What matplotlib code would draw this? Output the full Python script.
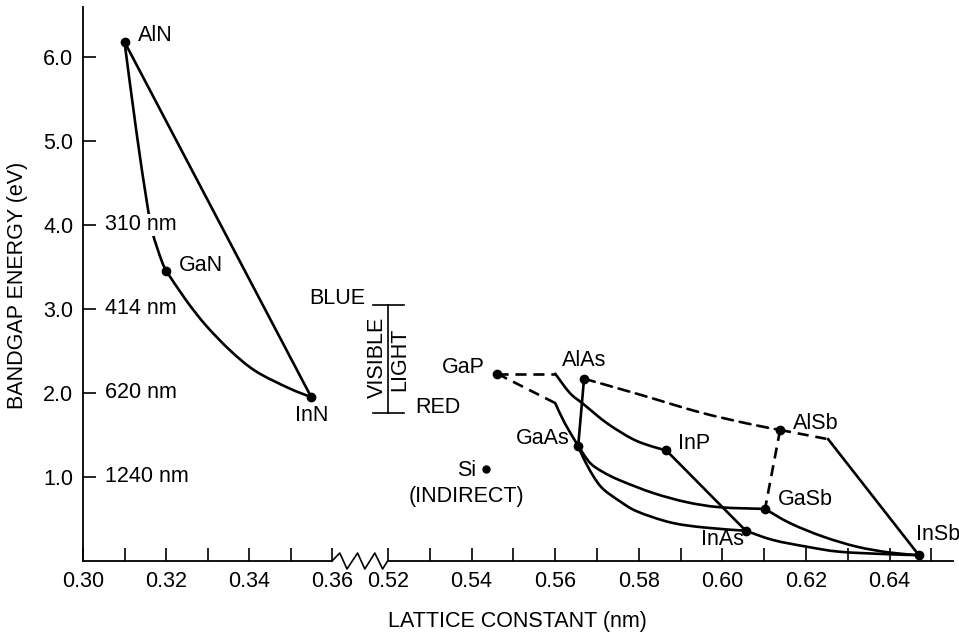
import matplotlib.pyplot as plt
from matplotlib.path import Path
from matplotlib.patches import PathPatch
from matplotlib.transforms import blended_transform_factory

plt.rcParams['font.family'] = ['Liberation Sans', 'DejaVu Sans']

# compounds: lattice constant (nm), bandgap (eV)
nitrides = {'AlN': (0.3100, 6.18), 'GaN': (0.3201, 3.45), 'InN': (0.3550, 1.95)}
others = {'GaP': (0.5461, 2.23), 'AlAs': (0.5669, 2.17), 'GaAs': (0.5655, 1.37),
          'InP': (0.5865, 1.32), 'AlSb': (0.6138, 1.56), 'GaSb': (0.6102, 0.62),
          'InAs': (0.6056, 0.36), 'InSb': (0.6470, 0.07)}
si = (0.5434, 1.10)

# ternary curves
alngan_x = [0.3100, 0.3129, 0.3153, 0.3167, 0.3189, 0.3201]
alngan_y = [6.18, 5.10, 4.30, 3.92, 3.58, 3.45]
ganinn_x = [0.3201, 0.3249, 0.3297, 0.3356, 0.3416, 0.3495, 0.3550]
ganinn_y = [3.45, 3.10, 2.80, 2.50, 2.26, 2.06, 1.95]
alninn_x = [0.3100, 0.3550]
alninn_y = [6.18, 1.95]

gapinp_dash_x = [0.5461, 0.5600]
gapinp_dash_y = [2.23, 2.23]
gapinp_x = [0.5600, 0.5635, 0.5667, 0.5724, 0.5786, 0.5834, 0.5865]
gapinp_y = [2.23, 2.00, 1.87, 1.64, 1.45, 1.36, 1.32]
gapgaas_dash_x = [0.5461, 0.5600]
gapgaas_dash_y = [2.23, 1.88]
gapgaas_x = [0.5600, 0.5623, 0.5655]
gapgaas_y = [1.88, 1.64, 1.37]
alasgaas_x = [0.5669, 0.5655]
alasgaas_y = [2.17, 1.37]
alasalsb_x = [0.5669, 0.5803, 0.5946, 0.6066, 0.6138]
alasalsb_y = [2.17, 1.98, 1.77, 1.63, 1.56]
alsbinsb_dash_x = [0.6138, 0.6253]
alsbinsb_dash_y = [1.56, 1.45]
alsbinsb_x = [0.6253, 0.6470]
alsbinsb_y = [1.45, 0.07]
alsbgasb_x = [0.6138, 0.6102]
alsbgasb_y = [1.56, 0.62]
gaasgasb_x = [0.5655, 0.5683, 0.5714, 0.5755, 0.5834, 0.5915, 0.5994, 0.6102]
gaasgasb_y = [1.37, 1.17, 1.06, 0.96, 0.81, 0.70, 0.64, 0.62]
gaasinas_x = [0.5655, 0.5667, 0.5690, 0.5714, 0.5755, 0.5796, 0.5875, 0.5954, 0.6056]
gaasinas_y = [1.37, 1.23, 1.02, 0.86, 0.71, 0.59, 0.46, 0.40, 0.36]
inpinas_x = [0.5865, 0.6056]
inpinas_y = [1.32, 0.36]
gasbinsb_x = [0.6102, 0.6162, 0.6241, 0.6322, 0.6401, 0.6470]
gasbinsb_y = [0.62, 0.45, 0.29, 0.17, 0.10, 0.07]
inasinsb_x = [0.6056, 0.6121, 0.6202, 0.6281, 0.6401, 0.6470]
inasinsb_y = [0.36, 0.25, 0.17, 0.11, 0.08, 0.07]

visible = (1.76, 3.05)
wavelengths = {4.0: '310 nm', 3.0: '414 nm', 2.0: '620 nm', 1.0: '1240 nm'}

lw = 1.9
dash = (0, (4.2, 2.6))
k = 'black'
fs = 15.5


def curve(ax, xs, ys, ls='-'):
    # smooth bezier through the read points (catmull-rom style handles)
    pts = list(zip(xs, ys))
    if len(pts) < 3:
        ax.plot(xs, ys, color=k, lw=lw, linestyle=ls, clip_on=False)
        return
    verts = [pts[0]]
    codes = [Path.MOVETO]
    n = len(pts)
    for i in range(n - 1):
        p0 = pts[max(i - 1, 0)]
        p1 = pts[i]
        p2 = pts[i + 1]
        p3 = pts[min(i + 2, n - 1)]
        c1 = (p1[0] + (p2[0] - p0[0]) / 6, p1[1] + (p2[1] - p0[1]) / 6)
        c2 = (p2[0] - (p3[0] - p1[0]) / 6, p2[1] - (p3[1] - p1[1]) / 6)
        verts += [c1, c2, p2]
        codes += [Path.CURVE4] * 3
    ax.add_patch(PathPatch(Path(verts, codes), fill=False, edgecolor=k, lw=lw,
                           linestyle=ls, clip_on=False, capstyle='round'))


fig = plt.figure(figsize=(9.59, 6.37), dpi=100)
ax1 = fig.add_axes([0.08655, 0.11931, 0.25965, 0.86970])
ax2 = fig.add_axes([0.40459, 0.11931, 0.58916, 0.86970])
ymax = 6.595
ax1.set_xlim(0.30, 0.36)
ax2.set_xlim(0.52, 0.65517)
for ax in (ax1, ax2):
    ax.set_ylim(0, ymax)
    ax.spines['top'].set_visible(False)
    ax.spines['right'].set_visible(False)
    for s in ax.spines.values():
        s.set_linewidth(1.3)
    ax.tick_params(direction='in', length=9.5, width=1.2, labelsize=fs, pad=7)
ax2.spines['left'].set_visible(False)
ax2.set_yticks([])
ax1.set_yticks([1, 2, 3, 4, 5, 6])
ax1.set_yticklabels(['1.0', '2.0', '3.0', '4.0', '5.0', '6.0'])

t1 = [0.30, 0.31, 0.32, 0.33, 0.34, 0.35, 0.36]
ax1.set_xticks(t1)
ax1.set_xticklabels(['%.2f' % t if i % 2 == 0 else '' for i, t in enumerate(t1)])
t2 = [0.52, 0.53, 0.54, 0.55, 0.56, 0.57, 0.58, 0.59, 0.60, 0.61, 0.62, 0.63, 0.64, 0.65]
ax2.set_xticks(t2)
ax2.set_xticklabels(['%.2f' % t if i % 2 == 0 else '' for i, t in enumerate(t2)])
ax1.tick_params(axis='x', pad=7)
ax2.tick_params(axis='x', pad=7)

# left panel: nitrides
curve(ax1, alngan_x, alngan_y)
curve(ax1, ganinn_x, ganinn_y)
ax1.plot(alninn_x, alninn_y, color=k, lw=lw)
nx = [v[0] for v in nitrides.values()]
ny = [v[1] for v in nitrides.values()]
ax1.plot(nx, ny, 'o', color=k, ms=6, clip_on=False, zorder=5)

# right panel
for xs, ys in [(gapinp_x, gapinp_y), (gapgaas_x, gapgaas_y), (alasgaas_x, alasgaas_y),
               (alsbinsb_x, alsbinsb_y), (gaasgasb_x, gaasgasb_y), (gaasinas_x, gaasinas_y),
               (inpinas_x, inpinas_y), (gasbinsb_x, gasbinsb_y), (inasinsb_x, inasinsb_y)]:
    curve(ax2, xs, ys)
for xs, ys in [(gapinp_dash_x, gapinp_dash_y), (gapgaas_dash_x, gapgaas_dash_y),
               (alasalsb_x, alasalsb_y), (alsbinsb_dash_x, alsbinsb_dash_y),
               (alsbgasb_x, alsbgasb_y)]:
    curve(ax2, xs, ys, ls=dash)
ox = [v[0] for v in others.values()]
oy = [v[1] for v in others.values()]
ax2.plot(ox, oy, 'o', color=k, ms=6, clip_on=False, zorder=5)
ax2.plot([si[0]], [si[1]], 'o', color=k, ms=5)

# visible light bar
ax2.plot([0.52, 0.52], visible, color=k, lw=1.2, clip_on=False)
for v in visible:
    ax2.plot([0.5164, 0.5238], [v, v], color=k, lw=1.2, clip_on=False)
ax2.text(0.5145, 3.13, 'BLUE', fontsize=fs, ha='right', va='center')
ax2.text(0.5265, 1.83, 'RED', fontsize=fs, ha='left', va='center')
ax2.text(0.5174, 2.42, 'VISIBLE', fontsize=fs, ha='center', va='center', rotation=90)
ax2.text(0.5229, 2.40, 'LIGHT', fontsize=fs, ha='center', va='center', rotation=90)

# wavelength labels
for e, s in wavelengths.items():
    ax1.text(0.3053, e, s, fontsize=fs, ha='left', va='center',
             bbox=dict(facecolor='white', edgecolor='none', pad=0.5))

# compound labels
ax1.text(0.3132, 6.26, 'AlN', fontsize=fs, ha='left', va='center')
ax1.text(0.3232, 3.52, 'GaN', fontsize=fs, ha='left', va='center')
ax1.text(0.3550, 1.73, 'InN', fontsize=fs, ha='center', va='center')
ax2.text(0.5432, 2.30, 'GaP', fontsize=fs, ha='right', va='center')
ax2.text(0.5669, 2.39, 'AlAs', fontsize=fs, ha='center', va='center')
ax2.text(0.5635, 1.46, 'GaAs', fontsize=fs, ha='right', va='center')
ax2.text(0.5894, 1.40, 'InP', fontsize=fs, ha='left', va='center')
ax2.text(0.5411, 1.08, 'Si', fontsize=fs, ha='right', va='center')
ax2.text(0.5387, 0.77, '(INDIRECT)', fontsize=fs, ha='center', va='center')
ax2.text(0.6169, 1.64, 'AlSb', fontsize=fs, ha='left', va='center')
ax2.text(0.6133, 0.73, 'GaSb', fontsize=fs, ha='left', va='center')
ax2.text(0.6000, 0.25, 'InAs', fontsize=fs, ha='center', va='center')
ax2.text(0.6463, 0.31, 'InSb', fontsize=fs, ha='left', va='center', clip_on=False)

# axis break zigzag
tr = blended_transform_factory(ax1.transData, ax1.transAxes)
g = 56 / 4180.0
zx = [0.36, 0.36 + g * 0.14, 0.36 + g * 0.27, 0.36 + g * 0.46, 0.36 + g * 0.59,
      0.36 + g * 0.77, 0.36 + g * 0.91, 0.36 + g]
zy = [0, 0.0144, -0.0144, 0.0144, -0.0144, 0.0144, -0.0144, 0]
ax1.plot(zx, zy, color=k, lw=1.2, transform=tr, clip_on=False)

fig.text(18 / 959, 1 - 285 / 637, 'BANDGAP ENERGY (eV)', rotation=90, fontsize=fs,
         ha='center', va='center')
fig.text(517 / 959, 1 - 622 / 637, 'LATTICE CONSTANT (nm)', fontsize=fs,
         ha='center', va='center')

fig.savefig('out.png', dpi=100)
